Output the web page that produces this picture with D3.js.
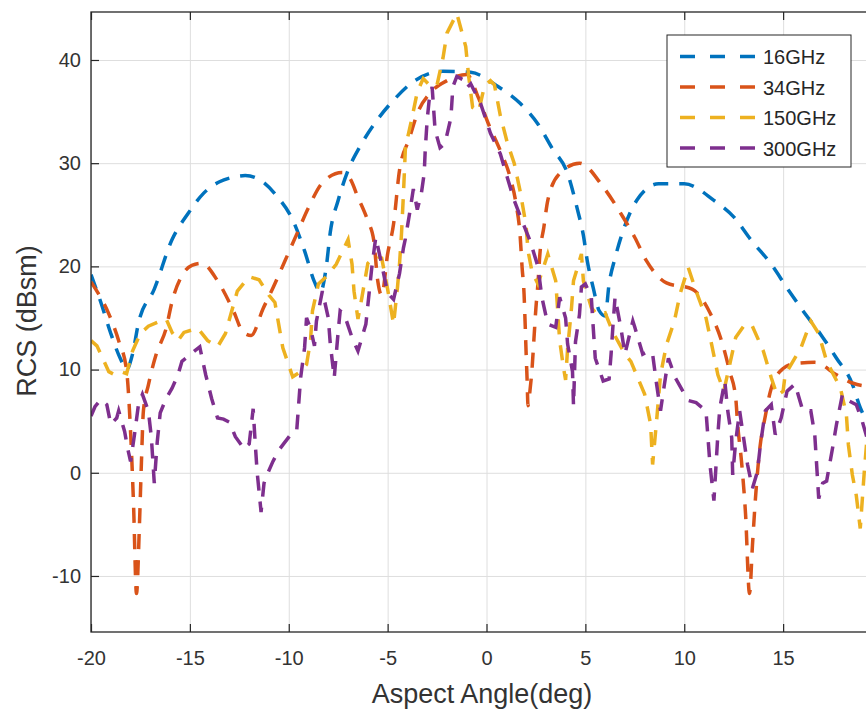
<!DOCTYPE html>
<html>
<head>
<meta charset="utf-8">
<script src="https://cdn.jsdelivr.net/npm/d3@7"></script>
<style>
  body { margin: 0; background: #fff; }
  svg { display: block; font-family: Arial, "Liberation Sans", Helvetica, sans-serif; }
  .grid line { stroke: #dedede; stroke-width: 1; }
  .grid path { display: none; }
  .axis path { display: none; }
  .axis line { stroke: #262626; stroke-width: 1.2; }
  .axis text { fill: #333; font-size: 20px; }
  .label { fill: #333; font-size: 27px; }
  .legend text { fill: #262626; font-size: 20px; }
</style>
</head>
<body>
<svg width="866" height="715"></svg>
<script>
'use strict'

// tick labels and legend (the x = 20 tick sits just past the right edge of the window)
const xTicks = [-20, -15, -10, -5, 0, 5, 10, 15]
const yTicks = [-10, 0, 10, 20, 30, 40]
const seriesNames = ['16GHz', '34GHz', '150GHz', '300GHz']
const seriesColors = ['#0072bd', '#d95319', '#edb120', '#7e2f8e']

// 16 GHz
const angle16 = [-20, -19.5, -19, -18.5, -18.2, -17.9, -17.6, -16.8, -15.9, -15.1, -14.3, -13.5, -12.9, -12.2, -11.4, -10.6, -9.8, -9.2, -8.7, -8.4,
  -8.1, -7.9, -7.5, -7.0, -6.4, -5.6, -4.7, -3.7, -2.2, -0.8, 0.6, 1.7, 2.6, 3.3, 4.1, 4.6, 4.9, 5.1, 5.4, 5.7,
  6.0, 6.2, 6.5, 6.9, 7.6, 8.7, 10.0, 11.5, 12.5, 13.4, 14.4, 15.2, 16.0, 16.9, 17.7, 18.5, 18.9, 19.4, 20]
const rcs16 = [19.2, 16.5, 13.5, 11, 10, 11.5, 14.5, 17.8, 22.6, 25.1, 27.1, 28.2, 28.6, 28.8, 28.3, 26.8, 24.5, 21.5, 18.5, 17.5,
  20, 23.3, 26.4, 29.3, 31.6, 34, 36.1, 37.9, 38.9, 38.8, 37.4, 35.8, 33.8, 31.5, 29, 25.5, 23, 20.5, 17.9, 15.7,
  15.2, 18.3, 20.8, 23.4, 26.4, 28, 28, 26.4, 24.8, 22.5, 20.2, 17.9, 15.7, 13.4, 11.1, 8.6, 6.3, 4.5, 2]

// 34 GHz
const angle34 = [-20, -19.8, -19.1, -18.6, -18.2, -18.0, -17.85, -17.7, -17.55, -17.45, -17.35, -17.1, -16.7, -16.2, -15.9, -15.4, -14.9, -14.4, -13.6, -12.8,
  -12.3, -11.9, -11.3, -10.8, -10.2, -9.6, -9.0, -8.3, -7.3, -6.9, -6.5, -6.0, -5.7, -5.5, -5.3, -5.0, -4.7, -4.4, -3.9, -3.5,
  -2.8, -2.0, -1.0, -0.4, 0.1, 0.7, 1.2, 1.5, 1.7, 1.8, 1.9, 1.95, 2.0, 2.05, 2.1, 2.2, 2.3, 2.4, 2.5, 2.6,
  2.7, 2.9, 3.1, 3.7, 4.7, 5.9, 6.8, 7.5, 8.1, 9.1, 10.4, 11.3, 11.9, 12.3, 12.6, 12.7, 12.9, 13.1, 13.3, 13.45,
  13.6, 13.8, 14.1, 14.4, 15.0, 15.6, 16.6, 17.7, 18.5, 19.3, 20]
const rcs34 = [18.5, 17.9, 15.4, 12.8, 9.9, 4, -3, -11.7, -5, 1, 6, 8.5, 11.5, 14, 16.6, 19.1, 20.1, 20.3, 18.6, 15.7,
  13.6, 13.3, 15.9, 17.9, 20.5, 23.1, 25.7, 28.1, 29.1, 28.5, 26.7, 24.4, 22.5, 18.6, 17.2, 21.2, 24.1, 29.3, 32.4, 34.8,
  36.9, 38.0, 38.6, 36.3, 33.8, 31.2, 28.6, 26, 23, 19.9, 17.3, 14.7, 11.8, 9.2, 6.5, 8, 10, 13, 16, 18.3,
  21.2, 23.8, 26.4, 29, 30, 27.7, 25.1, 22.8, 20.5, 18.4, 17.8, 15.5, 12.7, 9.8, 7.3, 4.7, 1, -4, -11.7, -7,
  -2.5, 2, 5.5, 8.2, 10.1, 10.6, 10.7, 9.5, 8.7, 8.4, 8.6]

// 150 GHz
const angle150 = [-20, -19.7, -19.1, -18.8, -18.5, -18.2, -17.9, -17.5, -17.1, -16.5, -16.2, -15.9, -15.6, -15.3, -14.6, -14.1, -13.6, -13.2, -12.6, -12.0,
  -11.5, -11.0, -10.7, -10.3, -9.8, -9.4, -9.1, -8.9, -8.8, -8.5, -8.1, -7.6, -7.0, -6.8, -6.7, -6.5, -6.3, -6.0, -5.6, -5.3,
  -5.0, -4.7, -4.5, -4.4, -4.3, -4.2, -4.1, -3.8, -3.5, -3.2, -2.8, -2.5, -2.2, -2.0, -1.5, -1.05, -0.9, -0.7, -0.4, -0.1,
  0.2, 0.4, 0.7, 1.05, 1.4, 1.7, 2.0, 2.1, 2.3, 2.6, 2.9, 3.1, 3.5, 3.6, 3.7, 3.9, 4.0, 4.1, 4.3, 4.4,
  4.8, 4.9, 5.3, 5.6, 6.0, 6.4, 7.0, 7.3, 8.0, 8.3, 8.4, 8.6, 8.8, 9.1, 9.5, 9.8, 10.2, 10.6, 11.1, 11.4,
  11.7, 12.0, 12.3, 12.6, 13.0, 13.4, 14.0, 14.4, 14.7, 15.0, 15.1, 15.9, 16.4, 16.8, 17.2, 17.9, 18.2, 18.3, 18.5, 18.7,
  18.9, 19.1, 19.3, 20]
const rcs150 = [12.8, 12.3, 9.8, 9.5, 9.8, 9.6, 11.8, 13.5, 14.2, 14.7, 14.9, 13.6, 12.8, 13.6, 14.0, 12.8, 12.2, 13.5, 17.6, 19.0,
  18.7, 17.2, 16.5, 12.1, 9.3, 9.8, 10.5, 12.8, 15.7, 18.3, 19.0, 20.2, 22.6, 20.2, 17.6, 14.9, 17.0, 20.3, 21.0, 20.8,
  17.8, 14.4, 18, 20.2, 23.1, 27, 31.5, 34.1, 36.9, 38.2, 37.4, 37.6, 40.2, 42.6, 44.5, 41.3, 38.4, 35.4, 35.0, 37.5,
  38.0, 37.6, 34.6, 32, 30, 27.3, 24, 21.5, 19.5, 18.3, 20, 21.2, 18.6, 15.7, 12.8, 10.1, 9, 12, 16, 18.6,
  21.2, 18.6, 16.0, 15.3, 15.5, 13.6, 11.5, 10.8, 7.6, 4.7, 0.8, 5, 9.5, 12.4, 14.7, 17.4, 19.9, 17.6, 15.0, 12.3,
  9.5, 7.9, 10.5, 13.1, 14.2, 14.4, 11.8, 9.2, 7.5, 7.9, 9.5, 12.1, 14.7, 13.5, 10.8, 8.2, 5.6, 2.7, -0.2, -2.2,
  -5.4, 0, 4.7, 8]

// 300 GHz
const angle300 = [-20, -19.8, -19.5, -19.2, -19.0, -18.7, -18.6, -18.3, -18.15, -18.0, -17.8, -17.6, -17.4, -17.1, -16.95, -16.8, -16.65, -16.5, -16.2, -15.9,
  -15.6, -15.4, -15.2, -14.9, -14.5, -14.2, -13.9, -13.6, -13.3, -13.0, -12.7, -12.4, -12.3, -12.0, -11.8, -11.7, -11.6, -11.4, -11.25, -11.1,
  -10.8, -10.5, -10.3, -9.9, -9.6, -9.5, -9.4, -9.2, -9.1, -8.9, -8.7, -8.6, -8.3, -8.0, -7.9, -7.7, -7.5, -7.4, -7.2, -6.8,
  -6.5, -6.1, -5.8, -5.6, -5.3, -5.0, -4.7, -4.4, -4.2, -4.1, -3.9, -3.7, -3.5, -3.3, -3.15, -3.1, -3.0, -2.9, -2.75, -2.6,
  -2.35, -2.1, -1.8, -1.7, -1.5, -1.2, -1.0, -0.8, -0.3, 0.2, 0.7, 1.1, 1.4, 1.8, 2.2, 2.6, 2.8, 3.1, 3.5, 3.7,
  4.0, 4.1, 4.35, 4.4, 4.5, 4.7, 4.8, 5.0, 5.3, 5.4, 5.5, 5.9, 6.2, 6.3, 6.4, 6.5, 6.8, 7.0, 7.4, 7.5,
  7.9, 8.2, 8.4, 8.6, 8.8, 9.0, 9.2, 9.55, 9.9, 10.2, 10.6, 11.1, 11.2, 11.3, 11.5, 11.7, 11.8, 12.05, 12.2, 12.4,
  12.45, 12.6, 12.8, 13.0, 13.2, 13.45, 13.7, 13.85, 14.1, 14.4, 14.6, 14.9, 15.2, 15.6, 16.0, 16.4, 16.6, 16.8, 17.0, 17.2,
  17.5, 17.7, 18.0, 18.3, 18.7, 19.0, 19.3, 20]
const rcs300 = [5.5, 6.4, 7.1, 6.6, 4.7, 5.3, 6.0, 4.0, 2.4, 1.1, 3.7, 6.6, 7.6, 6.0, 3.5, -1.0, 3, 5.8, 7.2, 8.2,
  9.5, 10.8, 11.1, 11.6, 12.2, 9.5, 7.2, 5.3, 5.2, 4.9, 3.5, 2.7, 2.3, 2.8, 6.2, 3, 0.1, -3.8, -1, -0.2,
  1.1, 2.2, 2.7, 3.7, 4.0, 6.6, 9.2, 12.1, 15, 14, 12.3, 14.7, 17.6, 15, 12.5, 9.2, 13.7, 15.7, 15.4, 13.1,
  11.8, 14.4, 19.9, 22.8, 20.2, 17.4, 16.8, 19.3, 21.8, 22.7, 25, 27.5, 25.5, 27, 29, 31.2, 34.2, 36.1, 37.4, 33.2,
  31.5, 31.9, 34.4, 37.4, 38.4, 38.1, 37.3, 37.7, 35.8, 32.9, 30.9, 28.3, 26.4, 24.4, 22.5, 20, 17, 14.4, 14.1, 17,
  15, 12.5, 9.8, 6.5, 12.7, 15.3, 18, 18.3, 17, 14, 11.1, 8.9, 9.1, 11.5, 14.4, 17, 14, 11.5, 14.7, 14.1,
  11.5, 11.8, 11.5, 8.6, 6.0, 8.6, 11.1, 9.2, 8, 7.0, 6.8, 6.0, 3.4, 0.8, -2.7, 3.7, 6.3, 8.9, 6, 3.4,
  -0.2, 3, 6, 3.4, 0.8, -1.5, 0.1, 2.7, 6, 6.6, 3.7, 5.3, 7.9, 8.6, 6, 6, 3.7, -2.5, -1, -0.8,
  2.4, 4.7, 7.6, 7, 6.6, 5, 3, 2]

const series = [
  d3.zip(angle16, rcs16),
  d3.zip(angle34, rcs34),
  d3.zip(angle150, rcs150),
  d3.zip(angle300, rcs300)
]

const svg = d3.select('svg')

// plot box (right edge falls just outside the window, like the original)
const boxL = 91, boxR = 882, boxT = 12, boxB = 632

const x = d3.scaleLinear().domain([-20, 20]).range([boxL, boxR])
const y = d3.scaleLinear().domain([-15.43, 44.65]).range([boxB, boxT])

// plain hyphen for negatives, like the original
const tickText = (d) => String(d)

svg.append('defs').append('clipPath')
    .attr('id', 'plotClip')
  .append('rect')
    .attr('x', boxL)
    .attr('y', boxT)
    .attr('width', boxR - boxL)
    .attr('height', boxB - boxT)

// grid
svg.append('g')
    .attr('class', 'grid')
    .attr('transform', `translate(0, ${boxB})`)
    .call(d3.axisBottom(x).tickValues(xTicks).tickSize(-(boxB - boxT)).tickFormat(''))

svg.append('g')
    .attr('class', 'grid')
    .attr('transform', `translate(${boxL}, 0)`)
    .call(d3.axisLeft(y).tickValues(yTicks).tickSize(-(boxR - boxL)).tickFormat(''))

// curves
const lineSmooth = d3.line()
    .x((d) => x(d[0]))
    .y((d) => y(d[1]))
    .curve(d3.curveMonotoneX)

const lineRough = d3.line()
    .x((d) => x(d[0]))
    .y((d) => y(d[1]))

const plot = svg.append('g').attr('clip-path', 'url(#plotClip)')

series.forEach((s, i) => {
    plot.append('path')
        .datum(s)
        .attr('fill', 'none')
        .attr('stroke', seriesColors[i])
        .attr('stroke-width', 3.5)
        .attr('stroke-dasharray', '15,11')
        .attr('d', i < 2 ? lineSmooth : lineRough)
})

// axes
svg.append('rect')
    .attr('x', boxL)
    .attr('y', boxT)
    .attr('width', boxR - boxL)
    .attr('height', boxB - boxT)
    .attr('fill', 'none')
    .attr('stroke', '#262626')
    .attr('stroke-width', 1.3)

svg.append('g')
    .attr('class', 'axis')
    .attr('transform', `translate(0, ${boxB})`)
    .call(d3.axisBottom(x).tickValues(xTicks).tickSizeInner(-8).tickSizeOuter(0).tickPadding(19).tickFormat(tickText))

svg.append('g')
    .attr('class', 'axis')
    .attr('transform', `translate(0, ${boxT})`)
    .call(d3.axisTop(x).tickValues(xTicks).tickSizeInner(-8).tickSizeOuter(0).tickFormat(''))

svg.append('g')
    .attr('class', 'axis')
    .attr('transform', `translate(${boxL}, 0)`)
    .call(d3.axisLeft(y).tickValues(yTicks).tickSizeInner(-8).tickSizeOuter(0).tickPadding(10).tickFormat(tickText))

// labels
svg.append('text')
    .attr('class', 'label')
    .attr('x', 482)
    .attr('y', 703)
    .attr('text-anchor', 'middle')
    .text('Aspect Angle(deg)')

svg.append('text')
    .attr('class', 'label')
    .attr('transform', 'translate(36, 321) rotate(-90)')
    .attr('text-anchor', 'middle')
    .text('RCS (dBsm)')

// legend
const legend = svg.append('g').attr('class', 'legend')

legend.append('rect')
    .attr('x', 667)
    .attr('y', 35)
    .attr('width', 184)
    .attr('height', 132)
    .attr('fill', '#fff')
    .attr('stroke', '#262626')
    .attr('stroke-width', 1)

seriesNames.forEach((name, i) => {
    const ly = 56.5 + i * 30.5
    legend.append('line')
        .attr('x1', 680)
        .attr('x2', 755)
        .attr('y1', ly)
        .attr('y2', ly)
        .attr('stroke', seriesColors[i])
        .attr('stroke-width', 3.5)
        .attr('stroke-dasharray', '15,15')
    legend.append('text')
        .attr('x', 763)
        .attr('y', ly + 7.5)
        .text(name)
})
</script>
</body>
</html>
